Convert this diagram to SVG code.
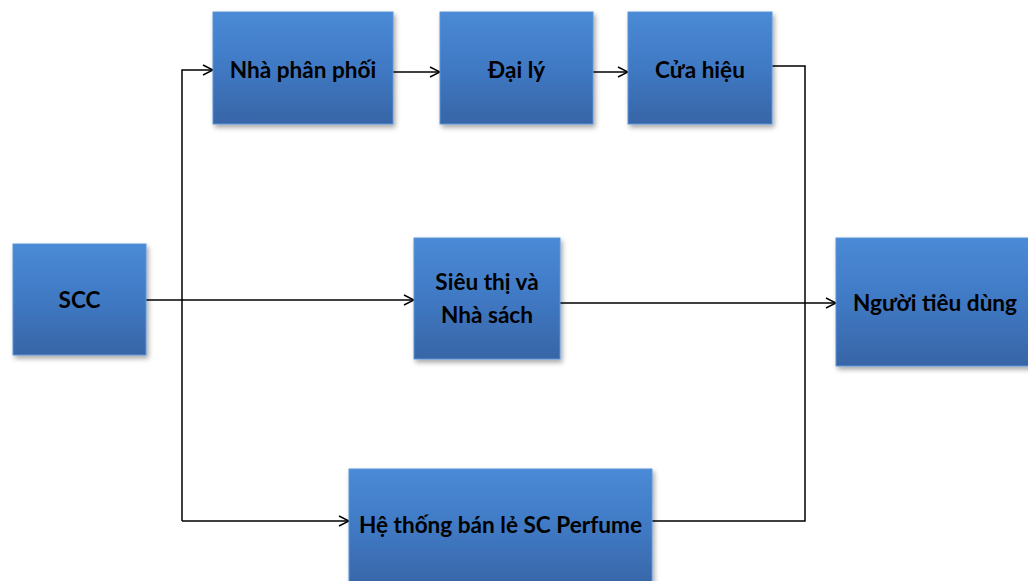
<svg xmlns="http://www.w3.org/2000/svg" width="1028" height="581" viewBox="0 0 1028 581">
<defs>
<linearGradient id="g" x1="0" y1="0" x2="0" y2="1">
<stop offset="0" stop-color="#4a8ad6"/>
<stop offset="0.5" stop-color="#4079c4"/>
<stop offset="1" stop-color="#3765a6"/>
</linearGradient>
<filter id="sh" x="-10%" y="-10%" width="130%" height="130%">
<feDropShadow dx="2" dy="3" stdDeviation="2.5" flood-color="#000" flood-opacity="0.35"/>
</filter>
<marker id="a" markerWidth="12" markerHeight="12" refX="11" refY="6" orient="auto" markerUnits="userSpaceOnUse">
<path d="M1,1 L11,6 L1,11" fill="none" stroke="#000" stroke-width="1.4"/>
</marker>
</defs>
<style>
.box{fill:url(#g);stroke:#5b94d8;stroke-width:1;filter:url(#sh)}
.t{font-family:Lato,"Open Sans",sans-serif;font-weight:bold;font-size:22.6px;fill:#000;text-anchor:middle}
.c{fill:none;stroke:#000;stroke-width:1.5}
</style>
<rect width="1028" height="581" fill="#fff"/>
<g id="connectors">
<path class="c" d="M146,300 L414,300" marker-end="url(#a)"/>
<path class="c" d="M182,521 L182,70 L213,70" marker-end="url(#a)"/>
<path class="c" d="M182,521 L349,521" marker-end="url(#a)"/>
<path class="c" d="M393,72 L440,72" marker-end="url(#a)"/>
<path class="c" d="M593,72 L628,72" marker-end="url(#a)"/>
<path class="c" d="M772,66 L805,66 L805,521 L652,521"/>
<path class="c" d="M560,303 L836,303" marker-end="url(#a)"/>
</g>
<g id="scc"><rect class="box" x="13" y="244" width="133" height="111"/><text class="t" x="79.5" y="308">SCC</text></g>
<g id="nha-phan-phoi"><rect class="box" x="213" y="12" width="180" height="112"/><text class="t" x="303" y="78">Nhà phân phối</text></g>
<g id="dai-ly"><rect class="box" x="440" y="12" width="153" height="112"/><text class="t" x="516.5" y="78">Đại lý</text></g>
<g id="cua-hieu"><rect class="box" x="628" y="12" width="144" height="112"/><text class="t" x="700" y="78">Cửa hiệu</text></g>
<g id="sieu-thi"><rect class="box" x="414" y="238" width="146" height="121"/><text class="t" x="487" y="290">Siêu thị và</text><text class="t" x="487" y="323">Nhà sách</text></g>
<g id="nguoi-tieu-dung"><rect class="box" x="836" y="238" width="200" height="128"/><text class="t" x="935" y="311">Người tiêu dùng</text></g>
<g id="he-thong"><rect class="box" x="349" y="469" width="303" height="120"/><text class="t" x="500.5" y="533">Hệ thống bán lẻ SC Perfume</text></g>
</svg>
